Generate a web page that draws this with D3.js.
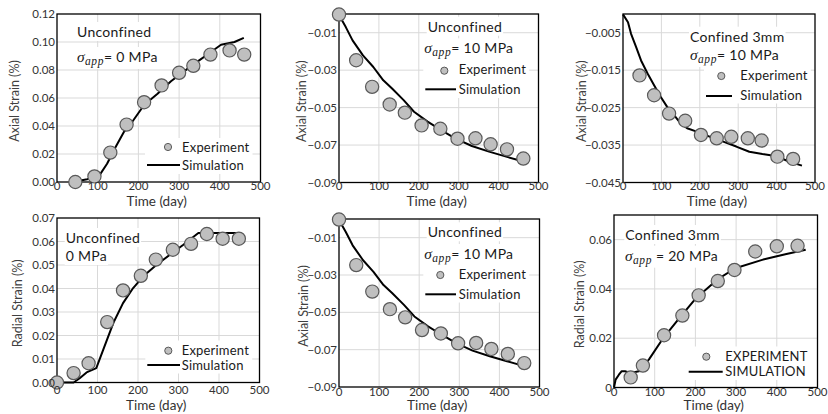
<!DOCTYPE html>
<html>
<head>
<meta charset="utf-8">
<script src="https://cdn.jsdelivr.net/npm/d3@7"></script>
<style>
  body { margin: 0; background: #fff; }
  text { font-family: Lato, "Open Sans", sans-serif; }
</style>
</head>
<body>
<div id="chart"></div>
<script>
const xTicks = [0, 100, 200, 300, 400, 500];

// (a) unconfined, 0 MPa, axial
const expA_day = [45, 92, 131, 171, 214, 257, 300, 335, 377, 424, 460];
const expA_val = [0.000, 0.004, 0.021, 0.041, 0.057, 0.069, 0.078, 0.083, 0.091, 0.094, 0.091];
const simA_day = [39, 74, 99, 107, 123, 144, 165, 185, 214, 247, 280, 312, 345, 374, 403, 436, 459];
const simA_val = [0, 0.002, 0.004, 0.006, 0.013, 0.025, 0.036, 0.043, 0.055, 0.063, 0.072, 0.079, 0.086, 0.092, 0.098, 0.100, 0.103];

// (b) unconfined, 10 MPa, axial (same data shown twice)
const expB_day = [0, 43, 83, 127, 165, 207, 254, 297, 342, 380, 421, 462];
const expB_val = [-0.0003, -0.0247, -0.0389, -0.0483, -0.0527, -0.0595, -0.0613, -0.0666, -0.0664, -0.0696, -0.0723, -0.0772];
const simB_day = [0, 17, 34, 60, 86, 111, 133, 162, 188, 222, 256, 291, 333, 376, 419, 462];
const simB_val = [-0.0005, -0.007, -0.0141, -0.0221, -0.0283, -0.0354, -0.0398, -0.046, -0.0522, -0.0575, -0.062, -0.0664, -0.0705, -0.0735, -0.0762, -0.0788];

// (c) confined 3mm, 10 MPa, axial
const expC_day = [43, 81, 120, 162, 203, 244, 282, 325, 361, 402, 443];
const expC_val = [-0.0164, -0.0217, -0.0266, -0.0285, -0.0323, -0.0332, -0.0328, -0.0332, -0.0338, -0.0381, -0.0387];
const simC_day = [0, 13, 21, 34, 47, 64, 81, 98, 115, 133, 150, 167, 192, 227, 261, 295, 329, 363, 397, 432, 466];
const simC_val = [-0.0001, -0.0022, -0.0053, -0.0088, -0.0124, -0.0159, -0.019, -0.0221, -0.0248, -0.027, -0.0292, -0.0305, -0.0314, -0.0328, -0.0341, -0.0354, -0.0368, -0.0374, -0.0379, -0.0394, -0.0405];

// (d) unconfined, 0 MPa, radial
const expD_day = [0, 41, 78, 124, 163, 207, 244, 286, 331, 370, 409, 449];
const expD_val = [0, 0.004, 0.0082, 0.0257, 0.0392, 0.0454, 0.0523, 0.0565, 0.059, 0.0632, 0.0612, 0.0612];
const simD_day = [0, 41, 56, 73, 97, 114, 139, 163, 188, 213, 246, 279, 312, 349, 394, 452];
const simD_val = [0, 0, 0.0018, 0.0043, 0.0061, 0.0139, 0.0253, 0.0338, 0.0402, 0.0452, 0.0501, 0.0544, 0.0586, 0.0636, 0.0636, 0.0636];

// (f) confined 3mm, 20 MPa, radial
const expF_day = [41, 71, 123, 168, 208, 255, 296, 347, 400, 451];
const expF_val = [0.0041, 0.0089, 0.0212, 0.0292, 0.0374, 0.0432, 0.0477, 0.0552, 0.0573, 0.0575];
const simF_day = [0, 4, 12, 19, 27, 41, 61, 86, 119, 159, 200, 257, 298, 364, 421, 471];
const simF_val = [0, 0.0032, 0.0052, 0.0066, 0.0066, 0.0059, 0.0066, 0.0114, 0.0196, 0.0278, 0.036, 0.0442, 0.0484, 0.0518, 0.0541, 0.0559];

const ticksA = [0, 0.02, 0.04, 0.06, 0.08, 0.10, 0.12];
const ticksB = [-0.01, -0.03, -0.05, -0.07, -0.09];
const ticksC = [-0.005, -0.015, -0.025, -0.035, -0.045];
const ticksD = [0, 0.01, 0.02, 0.03, 0.04, 0.05, 0.06, 0.07];
const ticksF = [0, 0.02, 0.04, 0.06];

const panels = [
  { box: [57, 260.5, 14, 182], y: [0, 0.12], ticks: ticksA, fmt: d3.format(".2f"),
    ylabel: "Axial Strain (%)", ylx: 19, tickY: 190, titleY: 206,
    exp: [expA_day, expA_val], sim: [simA_day, simA_val],
    notes: [{ x: 77, y: 37, t: "Unconfined" }, { x: 77, y: 62, sig: true, t: "= 0 MPa" }],
    leg: { mx: 168, my: 147, l1: 147, l2: 180, ly: 165, tx: 182, ty1: 152, ty2: 170, a: "Experiment", b: "Simulation" } },
  { box: [339, 538.5, 14, 182.5], y: [-0.09, 0], ticks: ticksB, fmt: d3.format(".2f"),
    ylabel: "Axial Strain (%)", ylx: 306, tickY: 190, titleY: 206,
    exp: [expB_day, expB_val], sim: [simB_day, simB_val],
    notes: [{ x: 427.7, y: 31.7, t: "Unconfined" }, { x: 424.3, y: 53.3, sig: true, t: "= 10 MPa" }],
    leg: { mx: 444.3, my: 70.7, l1: 425.3, l2: 456, ly: 89.3, tx: 458.7, ty1: 74, ty2: 94, a: "Experiment", b: "Simulation" } },
  { box: [623, 815, 14, 182.5], y: [-0.045, 0], ticks: ticksC, fmt: d3.format(".3f"),
    ylabel: "Axial Strain (%)", ylx: 586, tickY: 190, titleY: 206,
    exp: [expC_day, expC_val], sim: [simC_day, simC_val],
    notes: [{ x: 690, y: 41.7, t: "Confined 3mm" }, { x: 690, y: 60, sig: true, t: "= 10 MPa" }],
    leg: { mx: 721.3, my: 76, l1: 706, l2: 732, ly: 96, tx: 740.3, ty1: 79.5, ty2: 99.5, a: "Experiment", b: "Simulation" } },
  { box: [57, 259.5, 218, 382.5], y: [0, 0.07], ticks: ticksD, fmt: d3.format(".2f"),
    ylabel: "Radial Strain (%)", ylx: 22, tickY: 394, titleY: 410,
    exp: [expD_day, expD_val], sim: [simD_day, simD_val],
    notes: [{ x: 65.7, y: 243, t: "Unconfined" }, { x: 65.7, y: 261, t: "0 MPa" }],
    leg: { mx: 168.3, my: 350.7, l1: 147.3, l2: 180, ly: 365, tx: 181.7, ty1: 354.5, ty2: 369.5, a: "Experiment", b: "Simulation" } },
  { box: [339, 539.5, 219, 387], y: [-0.09, 0], ticks: ticksB, fmt: d3.format(".2f"),
    ylabel: "Axial Strain (%)", ylx: 308, tickY: 396, titleY: 410,
    exp: [expB_day, expB_val], sim: [simB_day, simB_val],
    notes: [{ x: 427.7, y: 237.3, t: "Unconfined" }, { x: 424.3, y: 259, sig: true, t: "= 10 MPa" }],
    leg: { mx: 440.3, my: 275, l1: 425.3, l2: 456, ly: 294.3, tx: 458.7, ty1: 278.5, ty2: 298.5, a: "Experiment", b: "Simulation" } },
  { box: [614, 817.5, 215, 387.5], y: [0, 0.07], ticks: ticksF, fmt: d => d === 0 ? "0" : d3.format(".2f")(d),
    ylabel: "Radial Strain (%)", ylx: 584, tickY: 396, titleY: 410,
    exp: [expF_day, expF_val], sim: [simF_day, simF_val],
    notes: [{ x: 625.3, y: 240, t: "Confined 3mm" }, { x: 625, y: 260.7, sig: true, t: " = 20 MPa" }],
    leg: { mx: 706.3, my: 356.7, l1: 688.7, l2: 722.7, ly: 371.7, tx: 725.3, ty1: 360.5, ty2: 376, a: "EXPERIMENT", b: "SIMULATION" } }
];

const svg = d3.select("#chart").append("svg")
  .attr("width", 828)
  .attr("height", 414);

function bgRect(g, sel, pad) {
  const b = sel.node().getBBox();
  g.insert("rect", () => sel.node())
    .attr("x", b.x - pad).attr("y", b.y - 1)
    .attr("width", b.width + pad * 2).attr("height", b.height + 2)
    .attr("fill", "#fff");
}

panels.forEach(p => {
  const [left, right, top, bottom] = p.box;
  const x = d3.scaleLinear().domain([0, 500]).range([left, right]);
  const y = d3.scaleLinear().domain(p.y).range([bottom, top]);
  const g = svg.append("g");

  // grid
  g.append("g").selectAll("line").data(xTicks.slice(1, -1)).join("line")
    .attr("x1", d => x(d)).attr("x2", d => x(d))
    .attr("y1", top).attr("y2", bottom)
    .attr("stroke", "#d9d9d9").attr("stroke-width", 1);
  g.append("g").selectAll("line").data(p.ticks.filter(t => t !== p.y[0] && t !== p.y[1])).join("line")
    .attr("x1", left).attr("x2", right)
    .attr("y1", d => y(d)).attr("y2", d => y(d))
    .attr("stroke", "#d9d9d9").attr("stroke-width", 1);

  // notes
  const notes = g.append("g");
  p.notes.forEach(n => {
    const t = notes.append("text")
      .attr("x", n.x).attr("y", n.y)
      .attr("font-size", 14).attr("letter-spacing", 0.3)
      .attr("fill", "#1a1a1a");
    if (n.sig) {
      t.append("tspan").text("σ")
        .attr("font-family", "'Liberation Serif', serif").attr("font-style", "italic").attr("font-size", 15.5);
      t.append("tspan").text("app")
        .attr("font-family", "'Liberation Serif', serif").attr("font-style", "italic").attr("font-size", 11.5)
        .attr("dy", 3).attr("letter-spacing", 0.6);
      t.append("tspan").text(n.t).attr("dy", -3);
    } else {
      t.text(n.t);
    }
    bgRect(notes, t, 1);
  });

  // legend
  const L = p.leg;
  const leg = g.append("g");
  const t1 = leg.append("text").attr("x", L.tx).attr("y", L.ty1)
    .attr("font-size", 13).attr("letter-spacing", 0.2).attr("fill", "#1a1a1a").text(L.a);
  const t2 = leg.append("text").attr("x", L.tx).attr("y", L.ty2)
    .attr("font-size", 13).attr("letter-spacing", 0.2).attr("fill", "#1a1a1a").text(L.b);
  const b1 = t1.node().getBBox(), b2 = t2.node().getBBox();
  const lx0 = Math.min(L.l1, L.mx - 5) - 2;
  leg.insert("rect", "text")
    .attr("x", lx0).attr("y", b1.y - 1)
    .attr("width", Math.min(Math.max(b1.x + b1.width, b2.x + b2.width) + 3, right - 1) - lx0)
    .attr("height", b2.y + b2.height - b1.y + 2)
    .attr("fill", "#fff");
  leg.append("circle").attr("cx", L.mx).attr("cy", L.my).attr("r", 3.6)
    .attr("fill", "#bfbfbf").attr("stroke", "#595959").attr("stroke-width", 1);
  leg.append("line").attr("x1", L.l1).attr("x2", L.l2).attr("y1", L.ly).attr("y2", L.ly)
    .attr("stroke", "#000").attr("stroke-width", 2);

  // frame
  g.append("rect")
    .attr("x", left).attr("y", top)
    .attr("width", right - left).attr("height", bottom - top)
    .attr("fill", "none").attr("stroke", "#000").attr("stroke-width", 1.3);

  // simulation line
  const simPts = d3.zip(p.sim[0], p.sim[1]);
  g.append("path")
    .datum(simPts)
    .attr("fill", "none").attr("stroke", "#000").attr("stroke-width", 2)
    .attr("stroke-linejoin", "round")
    .attr("d", d3.line().x(d => x(d[0])).y(d => y(d[1])));

  // experiment markers
  g.append("g").selectAll("circle").data(d3.zip(p.exp[0], p.exp[1])).join("circle")
    .attr("cx", d => x(d[0])).attr("cy", d => y(d[1])).attr("r", 6.6)
    .attr("fill", "#bfbfbf").attr("stroke", "#595959").attr("stroke-width", 1.2);

  // tick labels
  g.append("g").selectAll("text").data(xTicks).join("text")
    .attr("x", d => x(d)).attr("y", p.tickY)
    .attr("text-anchor", "middle").attr("font-size", 11.5).attr("fill", "#333")
    .text(d => d);
  g.append("g").selectAll("text").data(p.ticks).join("text")
    .attr("x", left - 2).attr("y", d => y(d) + 4)
    .attr("text-anchor", "end").attr("font-size", 11.5).attr("fill", "#333")
    .text(p.fmt);

  // axis titles
  g.append("text")
    .attr("x", (left + right) / 2 - 2).attr("y", p.titleY)
    .attr("text-anchor", "middle").attr("font-size", 13.5).attr("fill", "#333")
    .text("Time (day)");
  g.append("text")
    .attr("transform", `translate(${p.ylx},${(top + bottom) / 2 + 3}) rotate(-90)`)
    .attr("text-anchor", "middle").attr("font-size", 12.5).attr("fill", "#404040")
    .text(p.ylabel);
});
</script>
</body>
</html>
